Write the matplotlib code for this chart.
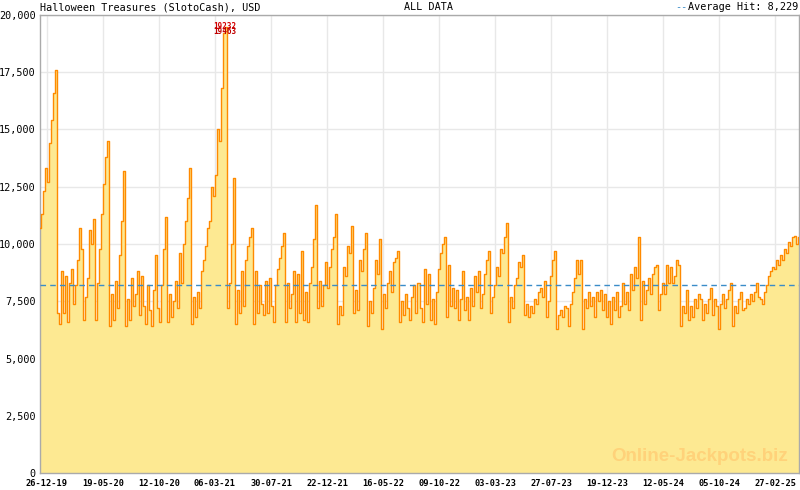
import numpy as np
import pandas as pd
import matplotlib
matplotlib.use("Agg")
import matplotlib.pyplot as plt
from matplotlib.ticker import FixedLocator, FuncFormatter

# ---------------- data ----------------
start_date = "2019-12-08"
end_date = "2025-04-30"

jackpot = [
    10700, 11300, 12300, 13300, 12700, 14400, 15400, 16600, 17600,
    7000, 6500, 8800, 7000, 8600, 6600, 8300, 8900, 7400, 8200, 9300, 10700, 9800,
    6700, 7700, 8500, 10600, 10000, 11100, 6700, 8300, 9800, 11300, 12600, 13800, 14500,
    6400, 7800, 6700, 8400, 7200, 9500, 11000, 13200, 6400, 7600, 6700, 8500, 7300, 7800,
    8800, 6900, 8600, 7300, 6500, 8200, 7100, 6400, 8000, 9500, 7200, 6600, 8200, 9800, 11200,
    6600, 7800, 6800, 7500, 8400, 7200, 9600, 8300, 10000, 11000, 12000, 13300,
    6500, 7700, 6800, 7900, 7200, 8800, 9300, 9900, 10700, 11000, 12500, 12100, 13000,
    15000, 14500, 16800, 19232, 19463,
    7200, 8300, 10000, 12900, 6500, 8000, 7000, 8800, 7300, 9300, 9900, 10300, 10700,
    6500, 8800, 7000, 8200, 7400, 6900, 8400, 7000, 8500, 7300, 6600, 8200, 8900, 9400,
    9900, 10500, 6600, 8300, 7200, 7800, 8800,
    6600, 8700, 7000, 9700, 6700, 7900, 6600, 8300, 9000, 10200, 11700,
    7200, 8400, 7300, 8200, 9200, 8100, 9000, 9800, 10300, 11300,
    6500, 7300, 6900, 9000, 8600, 9900, 9600, 10800,
    7000, 8000, 7100, 9300, 8800, 9800, 10500,
    6400, 7500, 7000, 8100, 9300, 8700, 10200,
    6300, 7800, 7200, 8300, 8800, 7900, 9200, 9400, 9700,
    6600, 7500, 6900, 7800, 7200, 6700, 7700, 8200,
    7000, 8300, 7200, 6600, 8900, 7400, 8700, 6700, 7600, 6500, 7900, 8900, 9600, 10000, 10300,
    6800, 9100, 7300, 8100, 7200, 8000, 6700, 7600, 8800, 7100, 7700, 6700, 8100, 7300,
    8600, 7900, 8800, 7200, 7800, 8700, 9300, 9700,
    7000, 7700, 8200, 9000, 8600, 9800, 9600, 10300, 10900,
    6600, 7700, 7200, 8200, 8500, 9200, 9000, 9500,
    6900, 7400, 6800, 7300, 7000, 7600, 7400, 7900, 8100, 7700, 8400,
    6800, 7500, 8600, 9300, 9700,
    6300, 6900, 7100, 6800, 7300, 7200, 6400, 7400, 7900, 8500, 9300, 8700, 9300,
    6300, 7600, 7200, 7900, 7300, 7700, 6800, 7900, 7500, 8000, 7100, 7800, 6800, 7500,
    6500, 7700, 7100, 7900, 6800, 7300, 8300, 7400, 7900, 7100, 8700, 8000, 9000, 8500, 10300,
    6700, 8400, 7400, 8000, 8500, 7800, 8700, 9000, 9100,
    7100, 7800, 8300, 7800, 9100,
    8300, 9000, 8300, 8600, 9300, 9100,
    6400, 7300, 7000, 8000, 6700, 7300, 6800, 7600, 7200, 7800, 7600, 6700, 7400, 7000, 7600, 8100,
    6900, 7600, 7300, 6300, 7400, 7800, 7200, 7600, 8000, 8300,
    6400, 7300, 7000, 7600, 7900, 7100, 7200, 7600, 7400, 7800, 7500, 7900, 8300, 7700,
    7600, 7400, 7900, 8200, 8600, 8800, 9000, 8900, 9300, 9100, 9500, 9300, 9800, 9600,
    10100, 9900, 10300, 10350, 10000, 10300,
]

average_hit = 8229
peak_labels = ["19232", "19463"]

tick_labels = ["26-12-19", "19-05-20", "12-10-20", "06-03-21", "30-07-21", "22-12-21",
               "16-05-22", "09-10-22", "03-03-23", "27-07-23", "19-12-23", "12-05-24",
               "05-10-24", "27-02-25"]
y_ticks = [0, 2500, 5000, 7500, 10000, 12500, 15000, 17500, 20000]

# ---------------- figure ----------------
MONO = ["DejaVu Sans Mono"]
fig = plt.figure(figsize=(8, 4.9), dpi=100)
ax = fig.add_axes([40 / 800, 17 / 490, 759 / 800, 458 / 490])

dates = pd.date_range(start_date, end_date, periods=len(jackpot))
vals = np.array(jackpot, dtype=float)

fill_col = "#FDE992"
line_col = "#FF8A00"
ax.fill_between(dates, vals, 0, step="mid", color=fill_col, linewidth=0, zorder=2)
ax.plot(dates, vals, drawstyle="steps-mid", color=line_col, lw=1.0, zorder=3)

ax.axhline(average_hit, color="#3A8CC8", lw=1.0, ls=(0, (4, 3)), zorder=4)

ax.set_xlim(pd.Timestamp(start_date), pd.Timestamp(end_date))
ax.set_ylim(0, 20000)

# x ticks
tick_dates = pd.to_datetime(tick_labels, format="%d-%m-%y")
tnum = matplotlib.dates.date2num(tick_dates)
ax.xaxis.set_major_locator(FixedLocator(tnum))
ax.set_xticklabels(tick_labels)
step = (tnum[-1] - tnum[0]) / (len(tnum) - 1) / 7
minor = np.arange(tnum[0] - 7 * step, tnum[-1] + 8 * step, step)
ax.xaxis.set_minor_locator(FixedLocator(minor))
ax.tick_params(axis="x", which="major", direction="in", length=5, width=1,
               color="#AAB0C8", pad=4, labelsize=6.2)
ax.tick_params(axis="x", which="minor", direction="in", length=3, width=1,
               color="#AAB0C8")
for t in ax.get_xticklabels():
    t.set_family(MONO)
    t.set_fontweight("bold")

# y ticks
ax.set_yticks(y_ticks)
ax.yaxis.set_major_formatter(FuncFormatter(lambda v, p: f"{int(v):,}"))
ax.tick_params(axis="y", length=0, pad=3, labelsize=7.3)
for t in ax.get_yticklabels():
    t.set_family(MONO)

ax.grid(True, which="major", color="#E8E8E8", lw=1, zorder=0)
ax.set_axisbelow(True)
for s in ax.spines.values():
    s.set_color("#AAAAAA")
    s.set_linewidth(1)

# peak labels (overlapping, as in the original)
ipk = int(np.argmax(vals))
pk_date = dates[ipk]
ax.annotate(peak_labels[0], xy=(pk_date, vals[ipk]), xytext=(-1, 0.6),
            textcoords="offset points", ha="center", va="center",
            color="#D40000", fontsize=5.5, fontweight="bold", family=MONO, zorder=6)
ax.annotate(peak_labels[1], xy=(pk_date, vals[ipk]), xytext=(-1, -3.0),
            textcoords="offset points", ha="center", va="center",
            color="#C00000", fontsize=5.5, fontweight="bold", family=MONO, zorder=6)

# watermark
ax.text(0.986, 0.035, "Online-Jackpots.biz", transform=ax.transAxes, ha="right",
        va="center", fontsize=13.5, fontweight="bold", color="#FFD27A",
        family=["Liberation Sans"], zorder=5)

# header texts
fig.text(40 / 800, 1 - 7.5 / 490, "Halloween Treasures (SlotoCash), USD",
         ha="left", va="center", fontsize=7.3, family=MONO)
fig.text(429 / 800, 1 - 7.5 / 490, "ALL DATA", ha="center", va="center",
         fontsize=7.3, family=MONO)
fig.text(798 / 800, 1 - 7.5 / 490, f"Average Hit: {average_hit:,}", ha="right",
         va="center", fontsize=7.3, family=MONO)
fig.text(687 / 800, 1 - 7.5 / 490, "--", ha="right", va="center",
         fontsize=7.3, family=MONO, color="#3A8CC8")

fig.savefig("out.png", dpi=100)
